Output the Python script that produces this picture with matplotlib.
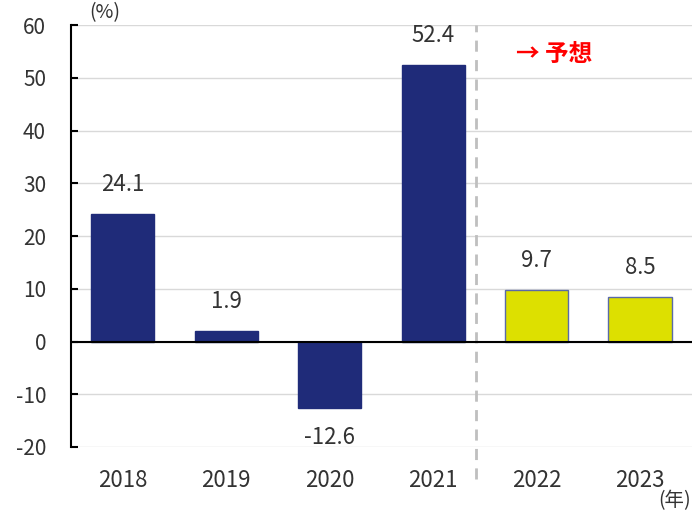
import numpy as np
import matplotlib.pyplot as plt

plt.rcParams['font.family'] = ['Noto Sans CJK JP', 'DejaVu Sans']
plt.rcParams['axes.unicode_minus'] = False

years = ['2018', '2019', '2020', '2021', '2022', '2023']
growth = [24.1, 1.9, -12.6, 52.4, 9.7, 8.5]
is_forecast = [False, False, False, False, True, True]

navy = '#1f2b79'
yellow = '#dde000'
text_col = '#333333'

fig = plt.figure(figsize=(6.99, 5.17), dpi=100)
ax = fig.add_axes([0.1016, 0.1354, 0.888, 0.8162])

x = np.arange(len(years))
colors = [yellow if f else navy for f in is_forecast]
edges = ['#5a6aa8' if f else navy for f in is_forecast]
ax.bar(x, growth, width=0.61, color=colors, edgecolor=edges, linewidth=1, zorder=3)

for xi, v in zip(x, growth):
    if v >= 0:
        ax.annotate(f'{v:.1f}', (xi, v), xytext=(0, 13), textcoords='offset points',
                    ha='center', va='bottom', fontsize=16, color=text_col)
    else:
        ax.annotate(f'{v:.1f}', (xi, v), xytext=(0, -13), textcoords='offset points',
                    ha='center', va='top', fontsize=16, color=text_col)

ax.set_xlim(-0.5, 5.5)
ax.set_ylim(-20, 60)
ax.set_yticks(np.arange(-20, 61, 10))
ax.yaxis.grid(True, color='#d9d9d9', linewidth=1, zorder=0)
ax.axhline(0, color='black', linewidth=1.5, zorder=4)

# forecast divider
ax.plot([3.41, 3.41], [-26, 60], color='#bfbfbf', linestyle=(0, (4, 3)),
        linewidth=2, clip_on=False, zorder=2)
ax.text(3.8, 54.5, '→ 予想', color='#ff0000', fontsize=17, fontweight='bold',
        ha='left', va='center')

for s in ['top', 'right', 'bottom']:
    ax.spines[s].set_visible(False)
ax.spines['left'].set_linewidth(1.5)
ax.tick_params(axis='y', direction='in', length=5, width=1.5, labelsize=15,
               labelcolor=text_col, pad=18)
ax.tick_params(axis='x', length=0, labelsize=16, labelcolor=text_col, pad=16)
ax.set_xticks(x)
ax.set_xticklabels(years)

fig.text(0.128, 0.975, '(%)', fontsize=14, color=text_col, ha='left', va='center')
fig.text(0.988, 0.032, '(年)', fontsize=14, color=text_col, ha='right', va='center')

fig.savefig('out.png', dpi=100)
